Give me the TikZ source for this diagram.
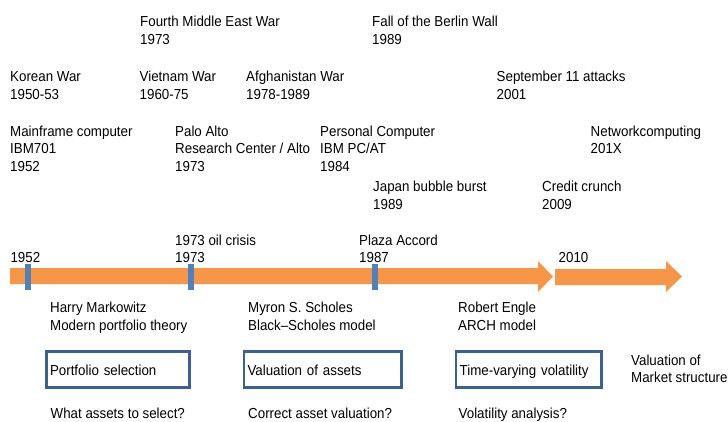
\documentclass[tikz,border=0pt]{standalone}
\usepackage{fontspec}
\setmainfont{Liberation Sans}[FakeStretch=0.92]
\definecolor{arroworange}{HTML}{F79646}
\definecolor{tickblue}{HTML}{4F81BD}
\definecolor{boxblue}{HTML}{3B6093}
\newcommand{\lbfont}{\fontsize{14.5}{17.7}\selectfont}
\begin{document}
\begin{tikzpicture}[x=1pt,y=-1pt,
  lbl/.style={anchor=north west, inner sep=0pt, align=left, font=\lbfont},
  qlbl/.style={anchor=base west, inner sep=0pt, font=\lbfont},
  tbox/.style={draw=boxblue, line width=2.7pt, anchor=north west, inner xsep=3.65pt, inner ysep=0pt,
     minimum height=36.3pt, text height=14pt, text depth=1.6pt, align=left, font=\lbfont},
  tickmark/.style={fill=tickblue, draw=none},
  bigarrow/.style={fill=arroworange, draw=none}]
\useasboundingbox (0,0) rectangle (728,421);
% timeline arrows
\fill[bigarrow] (10,268) -- (538,268) -- (538,261) -- (553,276.5) -- (538,292) -- (538,284) -- (10,284) -- cycle;
\fill[bigarrow] (555,269) -- (666,269) -- (666,261) -- (682,276.5) -- (666,292) -- (666,285) -- (555,285) -- cycle;
% ticks
\fill[tickmark] (24.5,264) rectangle (30.8,290);
\fill[tickmark] (188,264) rectangle (194.3,290);
\fill[tickmark] (371.5,264) rectangle (377.8,290);
% events above (north = baseline - 12.4)
\node[lbl] (fmew) at (140,14.3) {\strut Fourth Middle East War\\1973};
\node[lbl] (berlin) at (372,14.3) {\strut Fall of the Berlin Wall\\1989};
\node[lbl] (korea) at (10,69.3) {\strut Korean War\\1950-53};
\node[lbl] (vietnam) at (139.5,69.3) {\strut Vietnam War\\1960-75};
\node[lbl] (afgh) at (246,69.3) {\strut Afghanistan War\\1978-1989};
\node[lbl] (sept) at (496.5,69.3) {\strut September 11 attacks\\2001};
\node[lbl] (mainframe) at (10,123.6) {\strut Mainframe computer\\IBM701\\1952};
\node[lbl] (palo) at (175,123.6) {\strut Palo Alto\\Research Center / Alto\\1973};
\node[lbl] (pc) at (320,123.6) {\strut Personal Computer\\IBM PC/AT\\1984};
\node[lbl] (netc) at (590.5,123.6) {\strut Networkcomputing\\201X};
\node[lbl] (japan) at (373,179.1) {\strut Japan bubble burst\\1989};
\node[lbl] (credit) at (542,179.1) {\strut Credit crunch\\2009};
\node[lbl] (oil) at (175,232.6) {\strut 1973 oil crisis\\1973};
\node[lbl] (plaza) at (359,232.6) {\strut Plaza Accord\\1987};
\node[lbl] (y1952) at (10.3,250.1) {\strut 1952};
\node[lbl] (y2010) at (558.5,250.1) {\strut 2010};
% people
\node[lbl] (markowitz) at (50,300.3) {\strut Harry Markowitz\\Modern portfolio theory};
\node[lbl] (scholes) at (248,300.3) {\strut Myron S. Scholes\\Black–Scholes model};
\node[lbl] (engle) at (458,300.3) {\strut Robert Engle\\ARCH model};
% boxes
\node[tbox, text width=136pt] (portsel) at (45,350) {Portfolio selection};
\node[tbox, text width=150.3pt] (valass) at (242.5,350) {Valuation of assets};
\node[tbox, text width=138.1pt] (tvv) at (454.7,350) {Time-varying volatility};
\node[lbl] (market) at (631,352.6) {\strut Valuation of\\Market structure};
% questions
\node[qlbl] (q1) at (50.5,418) {What assets to select?};
\node[qlbl] (q2) at (248,418) {Correct asset valuation?};
\node[qlbl] (q3) at (458.5,418) {Volatility analysis?};
\end{tikzpicture}
\end{document}
